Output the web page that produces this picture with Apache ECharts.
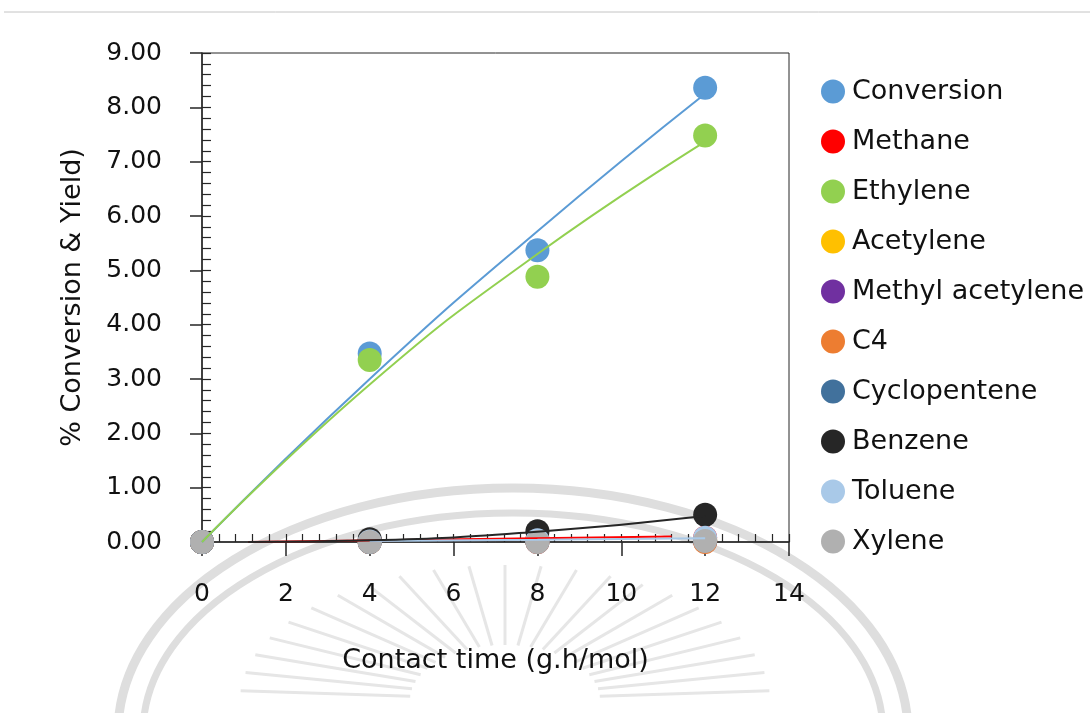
<!DOCTYPE html>
<html>
<head>
    <meta charset="utf-8">
    <title>Conversion & Yield</title>
    <script src="https://cdn.jsdelivr.net/npm/echarts@6/dist/echarts.min.js"></script>
</head>
<body style="margin:0;background:#fff;">
<div id="main" style="width:1090px;height:713px;"></div>
<script type="text/javascript">
    // contact time (g.h/mol)
    var contactTime = [0, 4, 8, 12];

    var conversion = [0, 3.47, 5.37, 8.36];
    var methane = [0, 0.02, 0.05, 0.08];
    var ethylene = [0, 3.35, 4.88, 7.48];
    var acetylene = [0, 0, 0.01, 0.02];
    var methylAcetylene = [0, 0, 0, 0.01];
    var c4 = [0, 0, 0, 0];
    var cyclopentene = [0, 0, 0.01, 0.03];
    var benzene = [0, 0.05, 0.2, 0.5];
    var toluene = [0, 0.01, 0.03, 0.08];
    var xylene = [0, 0, 0, 0.02];

    // trend lines
    var conversionTrendX = [0, 4, 8, 12];
    var conversionTrend = [0, 3.0, 5.72, 8.25];
    var ethyleneTrendX = [0, 4, 8, 12];
    var ethyleneTrend = [0, 2.9, 5.3, 7.37];
    var benzeneTrendX = [1.1, 4, 8, 12];
    var benzeneTrend = [0, 0.03, 0.19, 0.48];
    var methaneTrendX = [1.1, 11.2];
    var methaneTrend = [0, 0.1];
    var tolueneTrendX = [4, 8, 12];
    var tolueneTrend = [0.02, 0.04, 0.07];

    var names = ['Conversion', 'Methane', 'Ethylene', 'Acetylene', 'Methyl acetylene',
        'C4', 'Cyclopentene', 'Benzene', 'Toluene', 'Xylene'];
    var values = [conversion, methane, ethylene, acetylene, methylAcetylene,
        c4, cyclopentene, benzene, toluene, xylene];
    var colors = ['#5b9bd5', '#ff0000', '#92d050', '#ffc000', '#7030a0',
        '#ed7d31', '#41719c', '#262626', '#a9c9e8', '#b0b0b0'];

    var yTicks = [0, 1, 2, 3, 4, 5, 6, 7, 8, 9];
    var xTicks = [0, 2, 4, 6, 8, 10, 12, 14];

    function pairs(xs, ys) {
        return xs.map(function (x, i) { return [x, ys[i]]; });
    }

    var axisColor = '#262626';
    var textColor = '#111';
    var font = 'DejaVu Sans';

    var myChart = echarts.init(document.getElementById('main'));

    var series = [];
    [[conversionTrendX, conversionTrend, colors[0]],
     [ethyleneTrendX, ethyleneTrend, colors[2]],
     [methaneTrendX, methaneTrend, colors[1]],
     [tolueneTrendX, tolueneTrend, colors[8]],
     [benzeneTrendX, benzeneTrend, colors[7]]].forEach(function (t, i) {
        series.push({
            name: 'trend' + i,
            type: 'line',
            smooth: true,
            showSymbol: false,
            silent: true,
            lineStyle: { color: t[2], width: 2 },
            data: pairs(t[0], t[1])
        });
    });
    names.forEach(function (n, i) {
        series.push({
            name: n,
            type: 'scatter',
            symbolSize: 24,
            itemStyle: { color: colors[i], opacity: 1 },
            data: pairs(contactTime, values[i])
        });
    });

    // faint seal watermark at the bottom of the page (decoration only)
    var wm = '#dedede';
    var graphics = [{
        type: 'line',
        shape: { x1: 4, y1: 12, x2: 1090, y2: 12 },
        style: { stroke: '#c4c4c4', lineWidth: 1 }
    }, {
        type: 'ellipse', z: -10, silent: true,
        shape: { cx: 513, cy: 733, rx: 395, ry: 245 },
        style: { stroke: wm, lineWidth: 9, fill: null }
    }, {
        type: 'ellipse', z: -10, silent: true,
        shape: { cx: 513, cy: 733, rx: 370, ry: 220 },
        style: { stroke: wm, lineWidth: 7, fill: null }
    }];
    for (var k = 0; k <= 22; k++) {
        var a = Math.PI + (k + 0.5) * Math.PI / 23;
        graphics.push({
            type: 'line', z: -10, silent: true,
            shape: {
                x1: 505 + 95 * Math.cos(a), y1: 700 + 55 * Math.sin(a),
                x2: 505 + 265 * Math.cos(a), y2: 700 + 135 * Math.sin(a)
            },
            style: { stroke: '#e6e6e6', lineWidth: 3 }
        });
    }

    var option = {
        animation: false,
        backgroundColor: '#fff',
        textStyle: { fontFamily: font },
        graphic: graphics,
        legend: {
            data: names,
            orient: 'vertical',
            left: 816,
            top: 73,
            icon: 'circle',
            itemWidth: 24,
            itemHeight: 24,
            itemGap: 23,
            textStyle: {
                fontFamily: font,
                fontSize: 27,
                color: textColor,
                lineHeight: 26,
                padding: [0, 0, 0, 2]
            }
        },
        grid: {
            left: 202,
            top: 53,
            right: 301,
            bottom: 171,
            show: true,
            borderColor: axisColor,
            borderWidth: 1
        },
        xAxis: [{
            type: 'value',
            min: xTicks[0],
            max: xTicks[xTicks.length - 1],
            interval: 2,
            position: 'bottom',
            name: 'Contact time (g.h/mol)',
            nameLocation: 'middle',
            nameGap: 105,
            nameTextStyle: { fontFamily: font, fontSize: 27, color: textColor },
            axisLine: { lineStyle: { color: axisColor, width: 1.5 } },
            axisTick: { length: 14, lineStyle: { color: axisColor, width: 1.5 } },
            axisLabel: { margin: 40, fontFamily: font, fontSize: 25, color: textColor },
            splitLine: { show: false }
        }, {
            type: 'value',
            min: xTicks[0],
            max: xTicks[xTicks.length - 1],
            interval: 0.4,
            position: 'bottom',
            axisLine: { show: false },
            axisTick: { inside: true, length: 8, lineStyle: { color: axisColor, width: 1.2 } },
            axisLabel: { show: false },
            splitLine: { show: false }
        }],
        yAxis: [{
            type: 'value',
            min: yTicks[0],
            max: yTicks[yTicks.length - 1],
            interval: 1,
            name: '% Conversion & Yield)',
            nameLocation: 'middle',
            nameGap: 116,
            nameTextStyle: { fontFamily: font, fontSize: 27, color: textColor },
            axisLine: { lineStyle: { color: axisColor, width: 1.5 } },
            axisTick: { length: 12, lineStyle: { color: axisColor, width: 1.5 } },
            axisLabel: {
                margin: 40,
                fontFamily: font,
                fontSize: 25,
                color: textColor,
                formatter: function (v) { return v.toFixed(2); }
            },
            splitLine: { show: false }
        }, {
            type: 'value',
            min: yTicks[0],
            max: yTicks[yTicks.length - 1],
            interval: 0.2,
            position: 'left',
            axisLine: { show: false },
            axisTick: { inside: true, length: 9, lineStyle: { color: axisColor, width: 1.2 } },
            axisLabel: { show: false },
            splitLine: { show: false }
        }],
        series: series
    };

    myChart.setOption(option);
</script>
</body>
</html>
